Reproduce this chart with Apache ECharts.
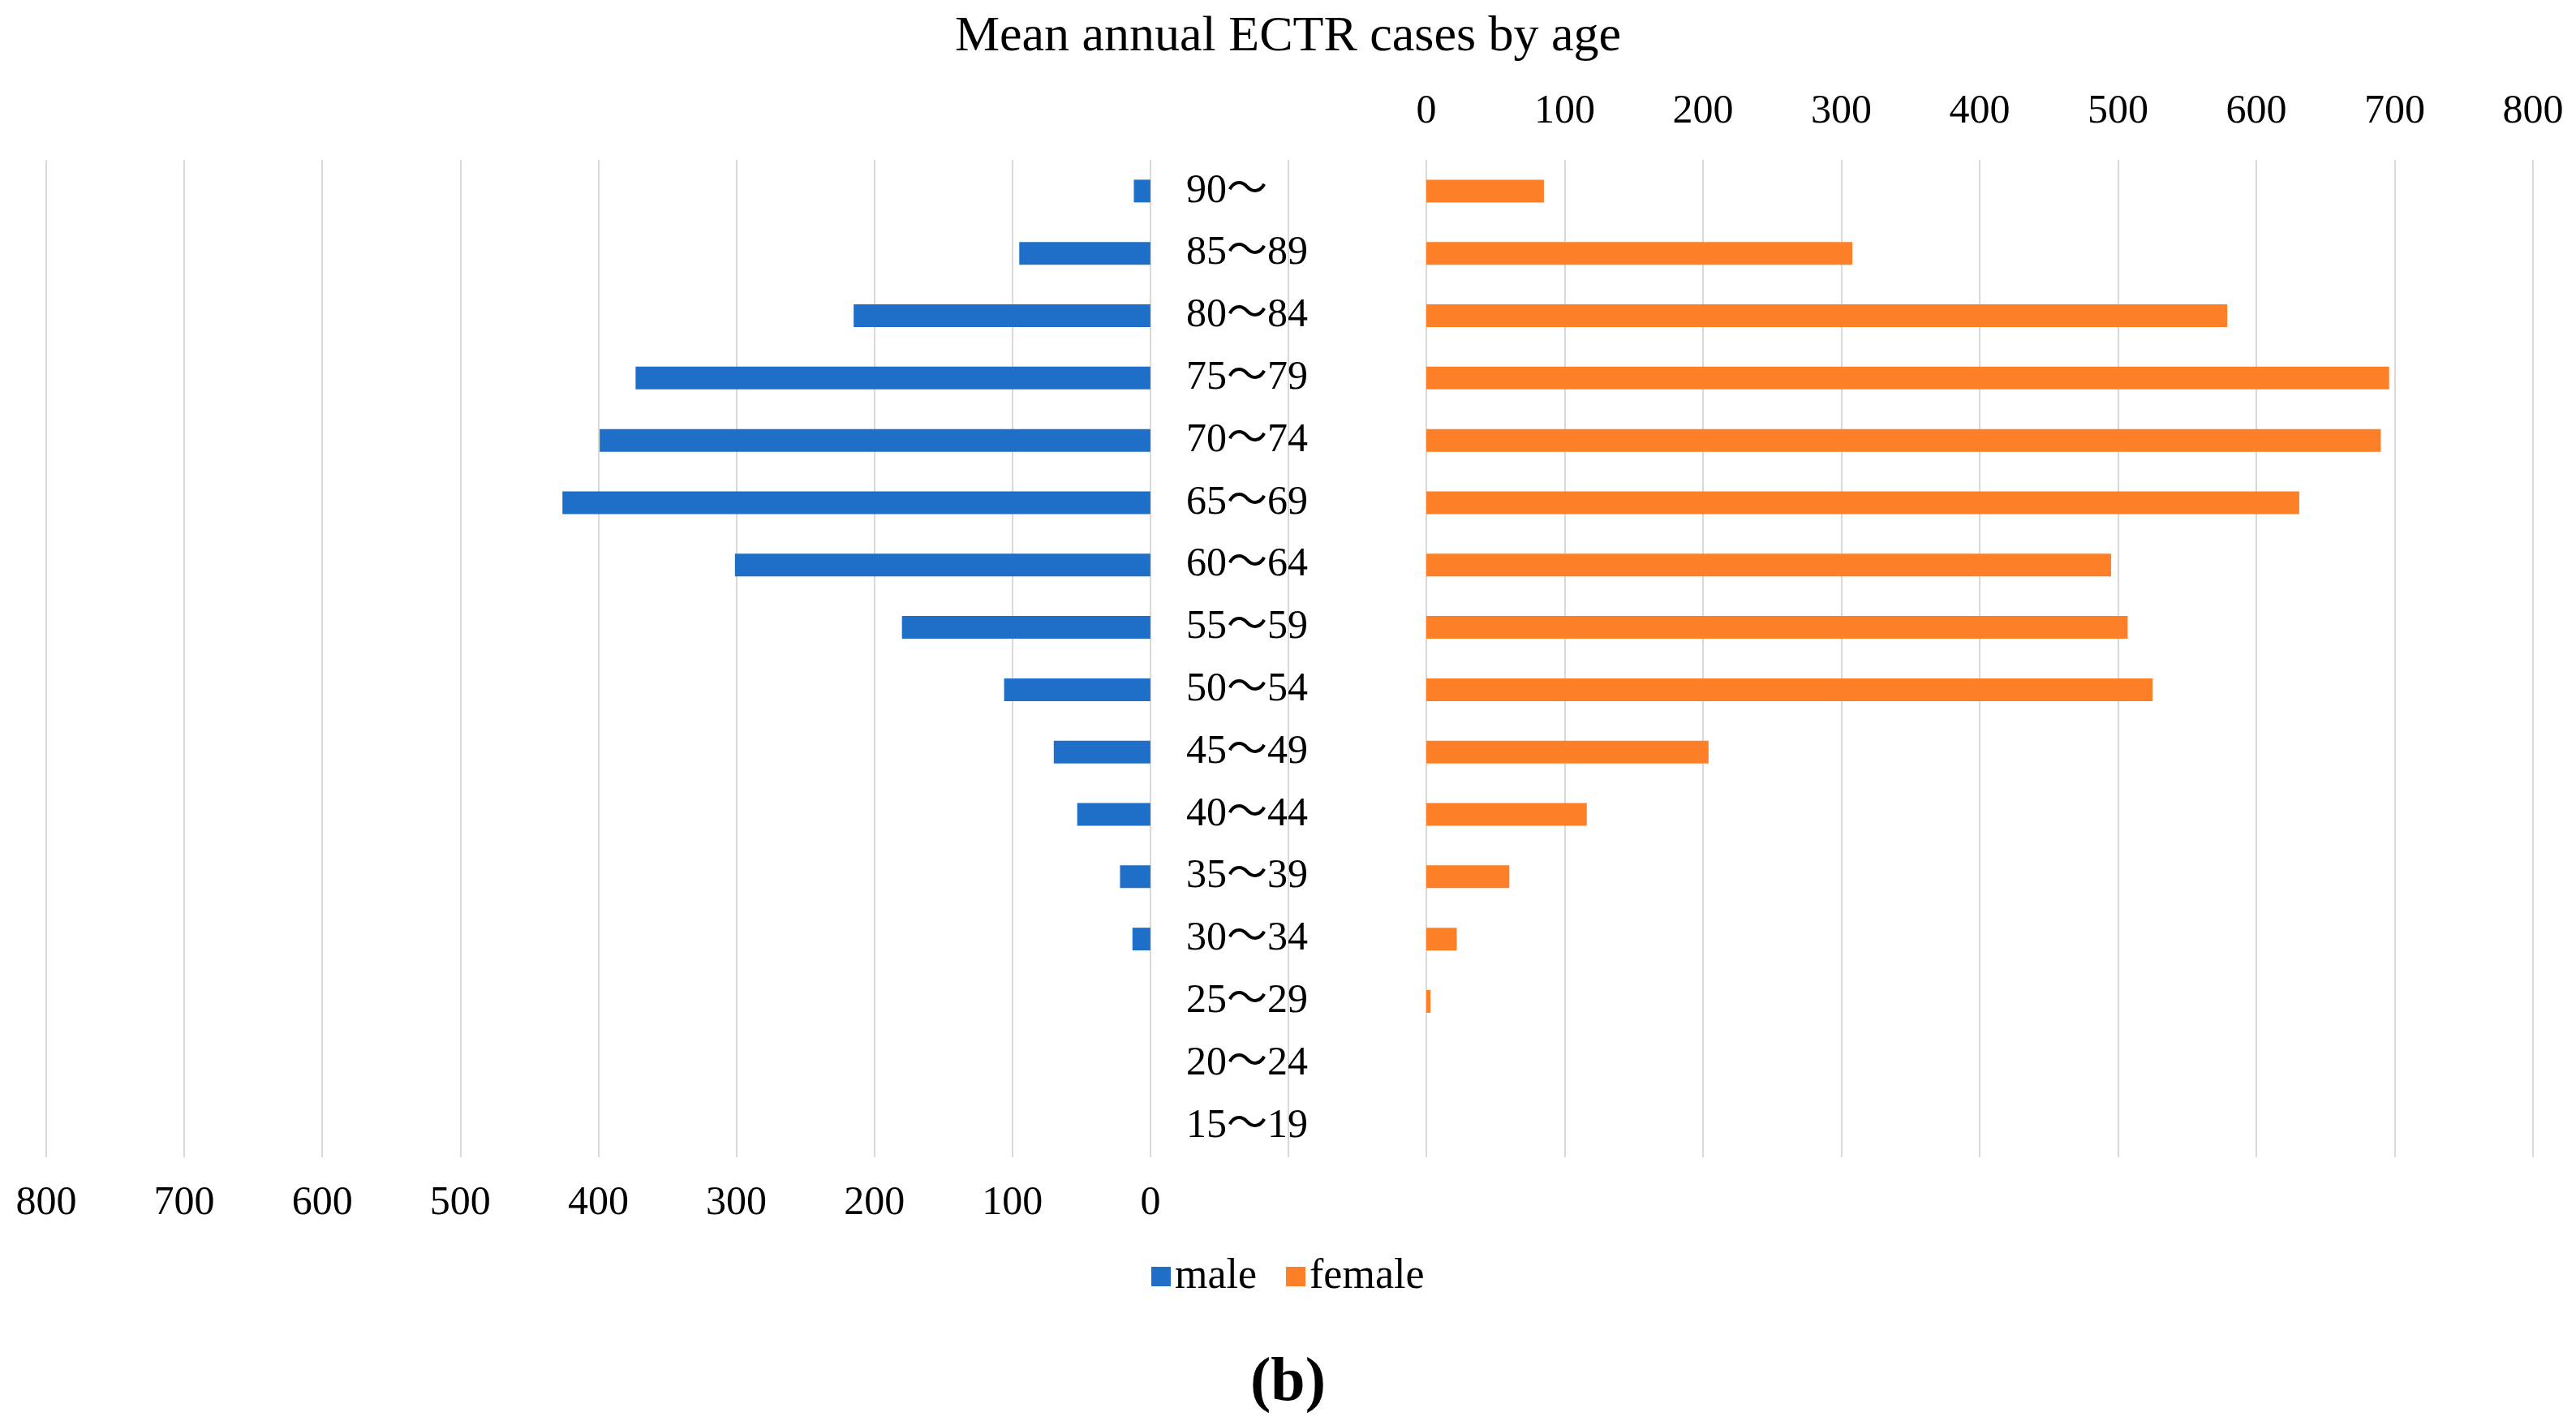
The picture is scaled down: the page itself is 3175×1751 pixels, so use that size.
<!DOCTYPE html>
<html>
<head>
<meta charset="utf-8">
<script src="https://cdn.jsdelivr.net/npm/echarts@6/dist/echarts.min.js"></script>
<style>
html,body{margin:0;padding:0;background:#fff;}
#chart{width:3175px;height:1751px;}
</style>
</head>
<body>
<div id="chart"></div>
<script>
var titleText = 'Mean annual ECTR cases by age';
var panelLabel = '(b)';
var categories = ['15～19','20～24','25～29','30～34','35～39','40～44','45～49','50～54','55～59','60～64','65～69','70～74','75～79','80～84','85～89','90～'];
var maleValues = [0,0,0,13,22,53,70,106,180,301,426,399,373,215,95,12];
var femaleValues = [0,0,3,22,60,116,204,525,507,495,631,690,696,579,308,85];
var tickValues = [0,100,200,300,400,500,600,700,800];
var seriesNames = ['male','female'];

var FONT = "'Liberation Serif', 'Times New Roman', 'Noto Sans CJK JP', serif";
var gridColor = '#d9d9d9';
var tickStep = tickValues[1] - tickValues[0];
var tickMax = tickValues[tickValues.length - 1];

var chart = echarts.init(document.getElementById('chart'));
chart.setOption({
  backgroundColor: '#ffffff',
  animation: false,
  title: [
    {text: titleText, left: 'center', top: 10,
     textStyle: {fontFamily: FONT, fontSize: 62, fontWeight: 'normal', color: '#000'}},
    {text: panelLabel, left: 'center', top: 1662,
     textStyle: {fontFamily: FONT, fontSize: 76, fontWeight: 'bold', color: '#000'}}
  ],
  legend: {
    data: seriesNames,
    left: 1414, top: 1542,
    itemWidth: 24, itemHeight: 24, itemGap: 36,
    icon: 'rect',
    textStyle: {fontFamily: FONT, fontSize: 52, color: '#000'}
  },
  grid: [
    {left: 57, width: 1531, top: 197, bottom: 325, containLabel: false},
    {left: 1758, right: 53, top: 197, bottom: 325, containLabel: false}
  ],
  xAxis: [
    {type: 'value', gridIndex: 0, min: -tickStep, max: tickMax, interval: tickStep, inverse: true,
     position: 'bottom',
     axisLine: {show: false}, axisTick: {show: false},
     splitLine: {show: true, lineStyle: {color: gridColor, width: 2}},
     axisLabel: {fontFamily: FONT, fontSize: 50, color: '#000', margin: 32,
       formatter: function (v) { return v < 0 ? '' : String(v); }}},
    {type: 'value', gridIndex: 1, min: 0, max: tickMax, interval: tickStep,
     position: 'top',
     axisLine: {show: false}, axisTick: {show: false},
     splitLine: {show: true, lineStyle: {color: gridColor, width: 2}},
     axisLabel: {fontFamily: FONT, fontSize: 50, color: '#000', margin: 34}}
  ],
  yAxis: [
    {type: 'category', gridIndex: 0, data: categories,
     axisLine: {show: false}, axisTick: {show: false}, axisLabel: {show: false}, splitLine: {show: false}},
    {type: 'category', gridIndex: 1, data: categories, position: 'left',
     axisLine: {show: false}, axisTick: {show: false}, splitLine: {show: false},
     axisLabel: {fontFamily: FONT, fontSize: 50, color: '#000', align: 'left', margin: 296}}
  ],
  series: [
    {name: seriesNames[0], type: 'bar', xAxisIndex: 0, yAxisIndex: 0, data: maleValues,
     barWidth: 28, itemStyle: {color: '#1f6fc8'}},
    {name: seriesNames[1], type: 'bar', xAxisIndex: 1, yAxisIndex: 1, data: femaleValues,
     barWidth: 28, itemStyle: {color: '#fd7f27'}}
  ]
});
</script>
</body>
</html>
